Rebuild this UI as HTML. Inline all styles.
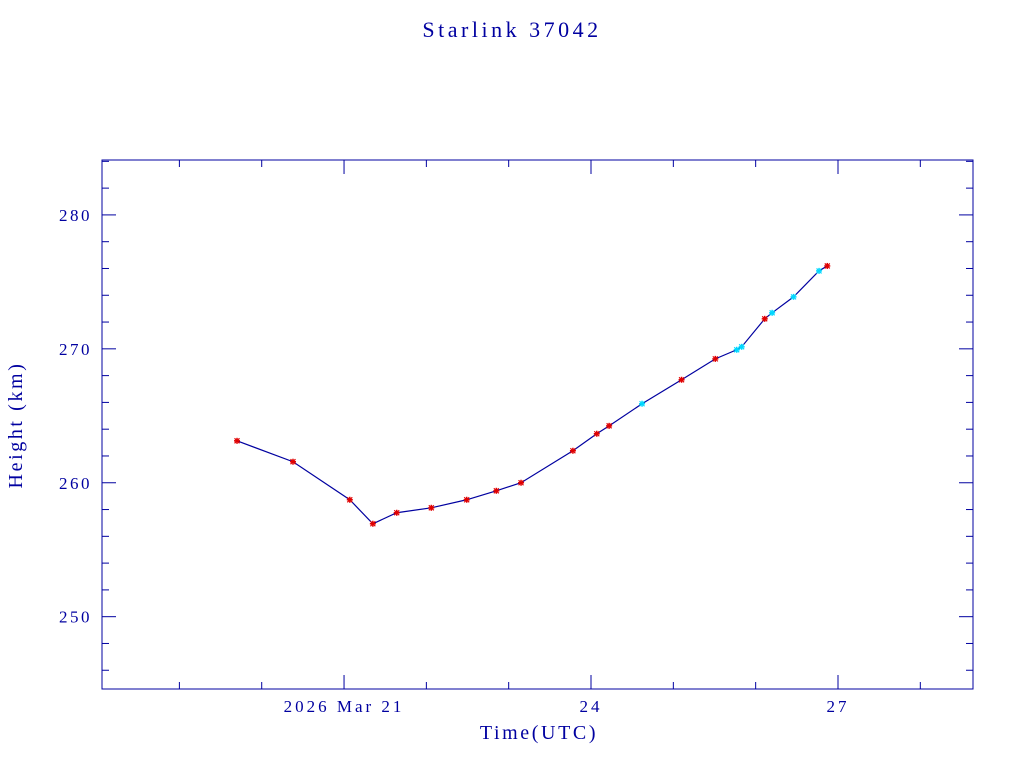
<!DOCTYPE html>
<html><head><meta charset="utf-8"><style>
html,body{margin:0;padding:0;background:#fff;}
svg{display:block;}
text{font-family:"Liberation Serif",serif;fill:#0000a0;}
</style></head><body>
<svg id="chart" width="1024" height="768">
<text x="512" y="37" text-anchor="middle" font-size="22" style="letter-spacing:3.5px">Starlink 37042</text>
<rect x="102" y="160" width="871" height="529" fill="none" stroke="#0000a0" stroke-width="1"/>
<text x="539" y="739" text-anchor="middle" font-size="20" style="letter-spacing:2.6px">Time(UTC)</text>
<text transform="translate(22,425) rotate(-90)" text-anchor="middle" font-size="20" style="letter-spacing:2.6px">Height (km)</text>
<g id="axes"></g>
<g id="marks"></g>
</svg>
<script>
const days = [19.70,20.38,21.07,21.35,21.64,22.06,22.49,22.85,23.15,23.78,24.07,24.22,24.62,25.10,25.51,25.77,25.83,26.11,26.20,26.46,26.77,26.87];
const heights = [263.13,261.57,258.73,256.94,257.76,258.13,258.73,259.40,260.0,262.39,263.66,264.25,265.90,267.69,269.25,269.93,270.15,272.24,272.69,273.88,275.82,276.19];
const markerColors = ["r","r","r","r","r","r","r","r","r","r","r","r","c","r","r","c","c","r","c","c","c","r"];
const yTicks = [250,260,270,280];
const xTickDays = [21,24,27];
const xTickLabels = ["2026 Mar 21","24","27"];

const X0=102,X1=973,Y0=160,Y1=689;
const dMin=18.06,dMax=28.64,hMin=244.6,hMax=284.1;
const xs=d=>X0+(d-dMin)/(dMax-dMin)*(X1-X0);
const ys=h=>Y1-(h-hMin)/(hMax-hMin)*(Y1-Y0);
const NS="http://www.w3.org/2000/svg";
const axes=document.getElementById('axes'), marks=document.getElementById('marks');
function line(p,x1,y1,x2,y2,c,w){const l=document.createElementNS(NS,'line');l.setAttribute('x1',x1);l.setAttribute('y1',y1);l.setAttribute('x2',x2);l.setAttribute('y2',y2);l.setAttribute('stroke',c);l.setAttribute('stroke-width',w||1);p.appendChild(l);return l;}
for(let h=246;h<=284;h+=2){const y=ys(h);const maj=h%10===0;const len=maj?14:7;
 const a=line(axes,X0,y,X0+len,y,'#0000a0');
 
 
 const b=line(axes,X1-len,y,X1,y,'#0000a0');
 
 }
yTicks.forEach(v=>{const t=document.createElementNS(NS,'text');t.setAttribute('x',92);t.setAttribute('y',ys(v)+6);t.setAttribute('text-anchor','end');t.setAttribute('font-size','17');t.setAttribute('style','letter-spacing:2.5px');t.textContent=v;
 
 
 axes.appendChild(t);});
for(let d=19;d<=28;d++){const x=xs(d);const maj=(d%3===0);const len=maj?14:7;
 const a=line(axes,x,Y1,x,Y1-len,'#0000a0');
 
 
 const b=line(axes,x,Y0,x,Y0+len,'#0000a0');
 
 }
xTickDays.forEach((d,i)=>{const t=document.createElementNS(NS,'text');t.setAttribute('x',xs(d));t.setAttribute('y',712);t.setAttribute('text-anchor','middle');t.setAttribute('font-size','17');t.setAttribute('style','letter-spacing:3px');t.textContent=xTickLabels[i];
 
 
 axes.appendChild(t);});
const pl=document.createElementNS(NS,'polyline');
pl.setAttribute('points',days.map((d,i)=>xs(d)+','+ys(heights[i])).join(' '));
pl.setAttribute('fill','none');pl.setAttribute('stroke','#0000a0');pl.setAttribute('stroke-width','1.2');


marks.appendChild(pl);
days.forEach((d,i)=>{const x=xs(d),y=ys(heights[i]);const c=markerColors[i]==='c'?'#00d8ff':'#e00000';
 const g=document.createElementNS(NS,'g');
 
 
 line(g,x-3,y,x+3,y,c,1.5);line(g,x,y-3,x,y+3,c,1.5);line(g,x-2.5,y-2.5,x+2.5,y+2.5,c,1.2);line(g,x-2.5,y+2.5,x+2.5,y-2.5,c,1.2);
 marks.appendChild(g);});
</script>
</body></html>
